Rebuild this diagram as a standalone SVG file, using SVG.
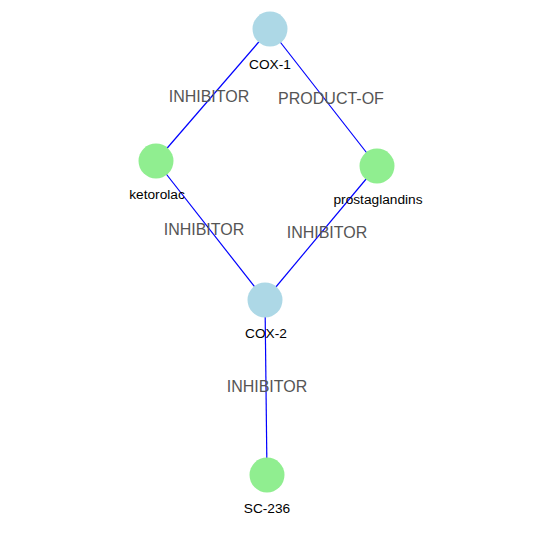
<svg xmlns="http://www.w3.org/2000/svg" width="554" height="539" viewBox="0 0 554 539">
<style>
.edge{stroke:#0000ff;stroke-width:1.2;fill:none}
.elabel{font-family:"Liberation Sans",Arial,sans-serif;font-size:16px;fill:#555555;text-anchor:middle}
.nlabel{font-family:"Liberation Sans",Arial,sans-serif;font-size:13.7px;fill:#000000;text-anchor:middle}
.protein{fill:#add8e6}
.drug{fill:#90ee90}
</style>
<rect width="554" height="539" fill="#ffffff"/>
<g id="connectors">
<line class="edge" x1="270" y1="29" x2="156" y2="161"/>
<line class="edge" x1="270" y1="29" x2="377" y2="166"/>
<line class="edge" x1="156" y1="161" x2="265" y2="300"/>
<line class="edge" x1="377" y1="166" x2="265" y2="300"/>
<line class="edge" x1="265" y1="300" x2="267" y2="475"/>
<text class="elabel" x="209" y="102">INHIBITOR</text>
<text class="elabel" x="331" y="104">PRODUCT-OF</text>
<text class="elabel" x="204" y="235">INHIBITOR</text>
<text class="elabel" x="327" y="238">INHIBITOR</text>
<text class="elabel" x="267" y="392">INHIBITOR</text>
</g>
<g id="COX-1"><circle class="protein" cx="270" cy="29" r="17.5"/><text class="nlabel" x="270" y="69">COX-1</text></g>
<g id="ketorolac"><circle class="drug" cx="156" cy="161" r="17.5"/><text class="nlabel" x="157" y="199">ketorolac</text></g>
<g id="prostaglandins"><circle class="drug" cx="377" cy="166" r="17.5"/><text class="nlabel" x="378" y="204">prostaglandins</text></g>
<g id="COX-2"><circle class="protein" cx="265" cy="300" r="17.5"/><text class="nlabel" x="266" y="338">COX-2</text></g>
<g id="SC-236"><circle class="drug" cx="267" cy="475" r="17.5"/><text class="nlabel" x="267" y="513">SC-236</text></g>
</svg>
